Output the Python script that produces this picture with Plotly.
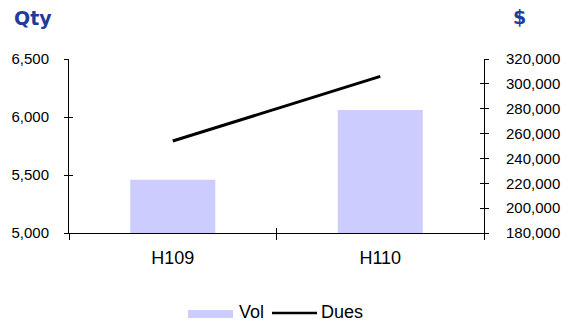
import plotly.graph_objects as go

# Half-year periods
categories = ["H109", "H110"]
# Volume (left axis, Qty)
vol = [5460, 6060]
# Dues (right axis, $)
dues = [254000, 306000]

FONT = "Arial, Liberation Sans, sans-serif"
BAR_COLOR = "#CCCCFF"
TITLE_COLOR = "#1F3C9C"

W, H = 564, 321
L, R, T, B = 69, 80, 59, 88
PW, PH = W - L - R, H - T - B


def px_x(px):
    return (px - L) / PW


def px_y(py):
    return (H - B - py) / PH


fig = go.Figure()

fig.add_trace(go.Bar(
    x=categories, y=vol, name="Vol",
    marker=dict(color=BAR_COLOR, line=dict(width=0)),
    width=0.41, yaxis="y", xaxis="x",
))
fig.add_trace(go.Scatter(
    x=categories, y=dues, name="Dues", mode="lines",
    line=dict(color="black", width=3),
    yaxis="y2", xaxis="x",
))
# invisible helpers carrying the inner half of the crossing ticks
fig.add_trace(go.Scatter(x=categories, y=vol, mode="none", xaxis="x2", yaxis="y3",
                         hoverinfo="skip", showlegend=False))
fig.add_trace(go.Scatter(x=categories, y=dues, mode="none", xaxis="x2", yaxis="y4",
                         hoverinfo="skip", showlegend=False))

axis_common = dict(showgrid=False, zeroline=False, showline=True, automargin=False,
                   linecolor="black", linewidth=1, tickcolor="black",
                   tickfont=dict(family=FONT, size=15, color="black"))

fig.update_layout(
    width=W, height=H, autosize=False,
    margin=dict(l=L, r=R, t=T, b=B, pad=0),
    paper_bgcolor="white", plot_bgcolor="white",
    showlegend=False,
    xaxis=dict(type="category", tickson="boundaries", ticks="outside", ticklen=6,
               ticklabelstandoff=8, range=[-0.5, 1.5],
               **{**axis_common, "tickfont": dict(family=FONT, size=18, color="black")}),
    xaxis2=dict(type="category", overlaying="x", matches="x", tickson="boundaries",
                ticks="inside", ticklen=5, showticklabels=False, showline=False,
                showgrid=False, zeroline=False, tickcolor="black", anchor="y3",
                automargin=False),
    yaxis=dict(range=[5000, 6500], dtick=500, tickformat=",", ticks="outside",
               ticklen=4, ticklabelstandoff=12, **axis_common),
    yaxis2=dict(range=[180000, 320000], dtick=20000, tickformat=",", ticks="outside",
                ticklen=4, ticklabelstandoff=14, overlaying="y", side="right",
                anchor="x", **axis_common),
    yaxis3=dict(range=[5000, 6500], dtick=500, overlaying="y", side="left",
                ticks="inside", ticklen=4, showticklabels=False, showline=False,
                showgrid=False, zeroline=False, tickcolor="black", anchor="x2",
                automargin=False),
    yaxis4=dict(range=[180000, 320000], dtick=20000, overlaying="y", side="right",
                ticks="inside", ticklen=4, showticklabels=False, showline=False,
                showgrid=False, zeroline=False, tickcolor="black", anchor="x2",
                automargin=False),
)

# axis titles
fig.add_annotation(text="<b>Qty</b>", xref="paper", yref="paper",
                   x=px_x(33), y=px_y(18), xanchor="center", yanchor="middle",
                   showarrow=False, font=dict(family="DejaVu Sans", size=19, color=TITLE_COLOR))
fig.add_annotation(text="<b>$</b>", xref="paper", yref="paper",
                   x=px_x(519.5), y=px_y(17), xanchor="center", yanchor="middle",
                   showarrow=False, font=dict(family="DejaVu Sans", size=19, color=TITLE_COLOR))

# legend
fig.add_shape(type="rect", xref="paper", yref="paper",
              x0=px_x(188), x1=px_x(233), y0=px_y(318), y1=px_y(310),
              fillcolor=BAR_COLOR, line=dict(width=0))
fig.add_annotation(text="Vol", xref="paper", yref="paper",
                   x=px_x(237), y=px_y(312), xanchor="left", yanchor="middle",
                   showarrow=False, font=dict(family=FONT, size=18, color="black"))
fig.add_shape(type="line", xref="paper", yref="paper",
              x0=px_x(272), x1=px_x(317), y0=px_y(313), y1=px_y(313),
              line=dict(color="black", width=2.5))
fig.add_annotation(text="Dues", xref="paper", yref="paper",
                   x=px_x(319), y=px_y(312), xanchor="left", yanchor="middle",
                   showarrow=False, font=dict(family=FONT, size=18, color="black"))

fig.write_html("out.html")
